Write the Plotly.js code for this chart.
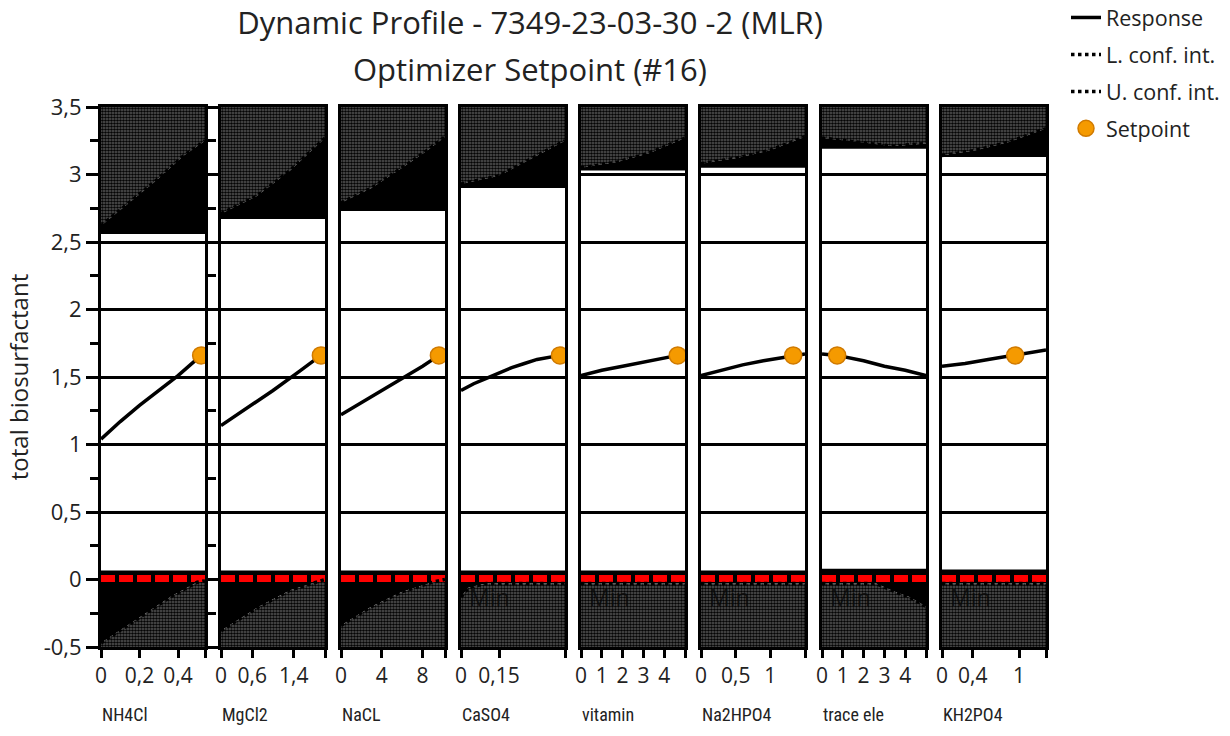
<!DOCTYPE html>
<html>
<head>
<meta charset="utf-8">
<script src="https://cdn.plot.ly/plotly-3.0.1.min.js"></script>
<style>html,body{margin:0;padding:0;background:#fff;}#chart{width:1230px;height:736px;}</style>
</head>
<body>
<div id="chart"></div>
<script>
// ---------- data ----------
const panels = ['NH4Cl', 'MgCl2', 'NaCL', 'CaSO4', 'vitamin', 'Na2HPO4', 'trace ele', 'KH2PO4'];
const xMax = [0.54, 2.0, 10.2, 0.41, 5, 1.5, 5, 1.35];
const tickVals = [[0, 0.2, 0.4], [0, 0.6, 1.4], [0, 4, 8], [0, 0.15], [0, 1, 2, 3, 4], [0, 0.5, 1], [0, 1, 2, 3, 4], [0, 0.4, 1]];
const tickText = [['0', '0,2', '0,4'], ['0', '0,6', '1,4'], ['0', '4', '8'], ['0', '0,15'], ['0', '1', '2', '3', '4'], ['0', '0,5', '1'], ['0', '1', '2', '3', '4'], ['0', '0,4', '1']];
const yTickVals = [-0.5, 0, 0.5, 1, 1.5, 2, 2.5, 3, 3.5];
const yTickText = ['-0,5', '0', '0,5', '1', '1,5', '2', '2,5', '3', '3,5'];

// response curves
const respX = [
  [0, 0.1, 0.2, 0.3, 0.4, 0.52],
  [0, 0.5, 1.0, 1.5, 1.92],
  [0, 2, 4, 6, 8, 9.6],
  [0, 0.05, 0.1, 0.15, 0.2, 0.25, 0.3, 0.39],
  [0, 1, 2, 3, 4, 4.65],
  [0, 0.3, 0.6, 0.9, 1.33, 1.5],
  [0, 0.73, 2, 3, 4, 5],
  [0, 0.3, 0.6, 0.95, 1.35]
];
const respY = [
  [1.04, 1.17, 1.29, 1.40, 1.51, 1.66],
  [1.14, 1.27, 1.40, 1.54, 1.66],
  [1.22, 1.31, 1.40, 1.49, 1.58, 1.66],
  [1.40, 1.45, 1.49, 1.53, 1.57, 1.60, 1.63, 1.66],
  [1.51, 1.55, 1.58, 1.61, 1.64, 1.66],
  [1.51, 1.55, 1.59, 1.62, 1.66, 1.67],
  [1.67, 1.66, 1.62, 1.58, 1.55, 1.51],
  [1.58, 1.60, 1.63, 1.66, 1.70]
];
// optimizer setpoint
const setX = [0.52, 1.92, 9.6, 0.39, 4.65, 1.33, 0.73, 0.95];
const setY = [1.66, 1.66, 1.66, 1.66, 1.66, 1.66, 1.66, 1.66];

// upper confidence band edge and its flat base
const upX = [
  [0, 0.11, 0.29, 0.43, 0.54],
  [0, 0.69, 1.33, 2.0],
  [0, 3, 6, 8.5, 10.2],
  [0, 0.15, 0.28, 0.41],
  [0, 1.7, 3.3, 5],
  [0, 0.5, 1.0, 1.5],
  [0, 1.8, 3.4, 5],
  [0, 0.44, 0.87, 1.35]
];
const upY = [
  [2.62, 2.75, 2.96, 3.14, 3.25],
  [2.71, 2.84, 3.03, 3.27],
  [2.79, 2.90, 3.05, 3.18, 3.28],
  [2.93, 2.99, 3.12, 3.25],
  [3.05, 3.09, 3.16, 3.27],
  [3.08, 3.12, 3.18, 3.28],
  [3.27, 3.24, 3.21, 3.23],
  [3.14, 3.18, 3.24, 3.34]
];
const upBase = [2.56, 2.67, 2.73, 2.90, 3.03, 3.05, 3.19, 3.13];

// lower confidence band edge and its flat top
const loX = [
  [0, 0.2, 0.37, 0.5, 0.54],
  [0, 0.69, 1.33, 2.0],
  [0, 3, 6, 9, 10.2],
  [0, 0.03, 0.1, 0.41],
  [0, 5],
  [0, 1.5],
  [0, 2.6, 3.5, 4.2, 5],
  [0, 1.35]
];
const loY = [
  [-0.47, -0.28, -0.12, -0.02, -0.01],
  [-0.38, -0.21, -0.08, 0.0],
  [-0.34, -0.20, -0.09, -0.02, 0.0],
  [-0.13, -0.06, -0.03, -0.03],
  [-0.03, -0.03],
  [-0.03, -0.03],
  [-0.03, -0.03, -0.09, -0.13, -0.20],
  [-0.03, -0.03]
];
const loTop = [0.067, 0.067, 0.067, 0.067, 0.067, 0.067, 0.08, 0.075];
const minLine = 0.008;          // red "Min" reference line value
const minLabel = 'Min';
const minLabelPanels = [3, 4, 5, 6, 7];
const yRange = [-0.5, 3.5];

// ---------- layout helpers ----------
const W = 1230, H = 736;
const plotL = 101, plotR = 1046, plotT = 107, plotB = 647;
const pw = plotR - plotL, ph = plotB - plotT;
const panelLeft = [101, 221, 341, 461, 581, 701, 822, 942];
const panelWidth = 104;

const grayPattern = {shape: '.', fgcolor: '#050505', bgcolor: '#5a5a5a', size: 3, solidity: 0.6};
const GRAY = '#3e3e3e';
const FONT = 'Open Sans, Roboto, sans-serif';
const NARROW = 'Liberation Sans Narrow, Roboto Condensed, DejaVu Sans Condensed, Roboto, sans-serif';
const traces = [];
const layout = {
  width: W, height: H,
  margin: {l: plotL, r: W - plotR, t: plotT, b: H - plotB, autoexpand: false},
  paper_bgcolor: '#fff', plot_bgcolor: '#fff',
  separators: ',.',
  font: {family: FONT, color: '#222'},
  showlegend: true,
  legend: {
    x: (1066 - plotL) / pw, y: (plotB + 3) / ph, xanchor: 'left', yanchor: 'top', xref: 'paper', yref: 'paper',
    font: {size: 21.5, color: '#222', family: FONT},
    traceorder: 'grouped', tracegroupgap: 6, bgcolor: 'rgba(0,0,0,0)', itemwidth: 30
  },
  title: {
    text: 'Dynamic Profile - 7349-23-03-30 -2 (MLR)',
    font: {size: 31, color: '#222', family: FONT},
    xref: 'container', x: 530 / W, xanchor: 'center', yref: 'container', y: 1 - 23 / H, yanchor: 'middle'
  },
  annotations: [{
    text: 'Optimizer Setpoint (#16)', xref: 'paper', yref: 'paper',
    x: (530 - plotL) / pw, y: (plotB - 69) / ph, xanchor: 'center', yanchor: 'middle',
    showarrow: false, font: {size: 31, color: '#222', family: FONT}
  }],
  yaxis: {
    range: yRange, anchor: 'x',
    tickmode: 'array', tickvals: yTickVals, ticktext: yTickText,
    showgrid: true, gridcolor: '#000', gridwidth: 3, zeroline: false,
    showline: true, linecolor: '#000', linewidth: 3, mirror: 'all',
    ticks: 'outside', ticklen: 12, tickwidth: 3, tickcolor: '#000',
    minor: {dtick: 0.25, tick0: 0, ticks: 'outside', ticklen: 8, tickwidth: 3, tickcolor: '#000', showgrid: false},
    tickfont: {size: 22, color: '#222'},
    title: {text: 'total biosurfactant', font: {size: 24, color: '#222'}, standoff: 9}
  }
};

for (let i = 0; i < panels.length; i++) {
  const xa = i === 0 ? 'x' : 'x' + (i + 1);
  const key = i === 0 ? 'xaxis' : 'xaxis' + (i + 1);
  const d0 = (panelLeft[i] - plotL) / pw;
  const d1 = (panelLeft[i] + panelWidth - plotL) / pw;
  layout[key] = {
    domain: [d0, Math.min(d1, 1)], range: [0, xMax[i]], anchor: 'y',
    showgrid: false, zeroline: false,
    showline: true, linecolor: '#000', linewidth: 3, mirror: true,
    ticks: 'outside', ticklen: 8, tickwidth: 3, tickcolor: '#000',
    tickmode: 'array', tickvals: tickVals[i].concat([xMax[i]]), ticktext: tickText[i].concat(['']),
    tickfont: {size: 21, color: '#222'}
  };
  // panel name, left aligned under each panel
  layout.annotations.push({
    text: panels[i], xref: xa + ' domain', yref: 'paper', x: -0.01, y: (plotB - 714) / ph,
    xanchor: 'left', yanchor: 'middle', showarrow: false, font: {size: 18, color: '#222', family: NARROW}
  });

  const ux = upX[i], uy = upY[i];
  const lx = loX[i], ly = loY[i];
  const rux = ux.slice().reverse(), rlx = lx.slice().reverse();
  // top gray region
  traces.push({
    x: ux.concat(rux), y: uy.concat(ux.map(() => yRange[1])), xaxis: xa, yaxis: 'y',
    type: 'scatter', mode: 'lines', fill: 'toself', fillcolor: GRAY, fillpattern: grayPattern,
    line: {width: 0}, showlegend: false, hoverinfo: 'skip'
  });
  // top black region
  traces.push({
    x: ux.concat(rux), y: ux.map(() => upBase[i]).concat(uy.slice().reverse()), xaxis: xa, yaxis: 'y',
    type: 'scatter', mode: 'lines', fill: 'toself', fillcolor: '#000',
    line: {width: 0}, showlegend: false, hoverinfo: 'skip'
  });
  // bottom black region
  traces.push({
    x: lx.concat(rlx), y: lx.map(() => loTop[i]).concat(ly.slice().reverse()), xaxis: xa, yaxis: 'y',
    type: 'scatter', mode: 'lines', fill: 'toself', fillcolor: '#000',
    line: {width: 0}, showlegend: false, hoverinfo: 'skip'
  });
  // bottom gray region
  traces.push({
    x: lx.concat(rlx), y: ly.concat(lx.map(() => yRange[0])), xaxis: xa, yaxis: 'y',
    type: 'scatter', mode: 'lines', fill: 'toself', fillcolor: GRAY, fillpattern: grayPattern,
    line: {width: 0}, showlegend: false, hoverinfo: 'skip'
  });
  // red dashed min line
  traces.push({
    x: [0, xMax[i]], y: [minLine, minLine], xaxis: xa, yaxis: 'y', type: 'scatter', mode: 'lines',
    line: {color: '#ff0000', width: 7, dash: '14px,4px'}, showlegend: false, hoverinfo: 'skip'
  });
  // confidence interval lines (dotted)
  traces.push({
    x: lx, y: ly, xaxis: xa, yaxis: 'y', type: 'scatter', mode: 'lines', name: 'L. conf. int.',
    line: {color: '#000', width: 3.5, dash: 'dot'}, legendgroup: 'l', legendrank: 2, showlegend: i === 0, hoverinfo: 'skip'
  });
  traces.push({
    x: ux, y: uy, xaxis: xa, yaxis: 'y', type: 'scatter', mode: 'lines', name: 'U. conf. int.',
    line: {color: '#000', width: 3.5, dash: 'dot'}, legendgroup: 'u', legendrank: 3, showlegend: i === 0, hoverinfo: 'skip'
  });
  // response
  traces.push({
    x: respX[i], y: respY[i], xaxis: xa, yaxis: 'y', type: 'scatter', mode: 'lines', name: 'Response',
    line: {color: '#000', width: 3.5}, legendgroup: 'r', legendrank: 1, showlegend: i === 0, hoverinfo: 'skip'
  });
  // setpoint
  traces.push({
    x: [setX[i]], y: [setY[i]], xaxis: xa, yaxis: 'y', type: 'scatter', mode: 'markers', name: 'Setpoint',
    marker: {color: '#F59A00', size: 17, line: {color: '#D07A00', width: 1.5}},
    legendgroup: 's', legendrank: 4, showlegend: i === 0, hoverinfo: 'skip'
  });
}
for (const i of minLabelPanels) {
  const xa = 'x' + (i + 1);
  layout.annotations.push({
    text: minLabel, xref: xa + ' domain', yref: 'y', x: 0.06, y: -0.126, xanchor: 'left', yanchor: 'middle',
    showarrow: false, font: {size: 23, color: 'rgba(10,10,10,0.85)'}
  });
}

Plotly.newPlot('chart', traces, layout, {displayModeBar: false, staticPlot: true});
</script>
</body>
</html>
